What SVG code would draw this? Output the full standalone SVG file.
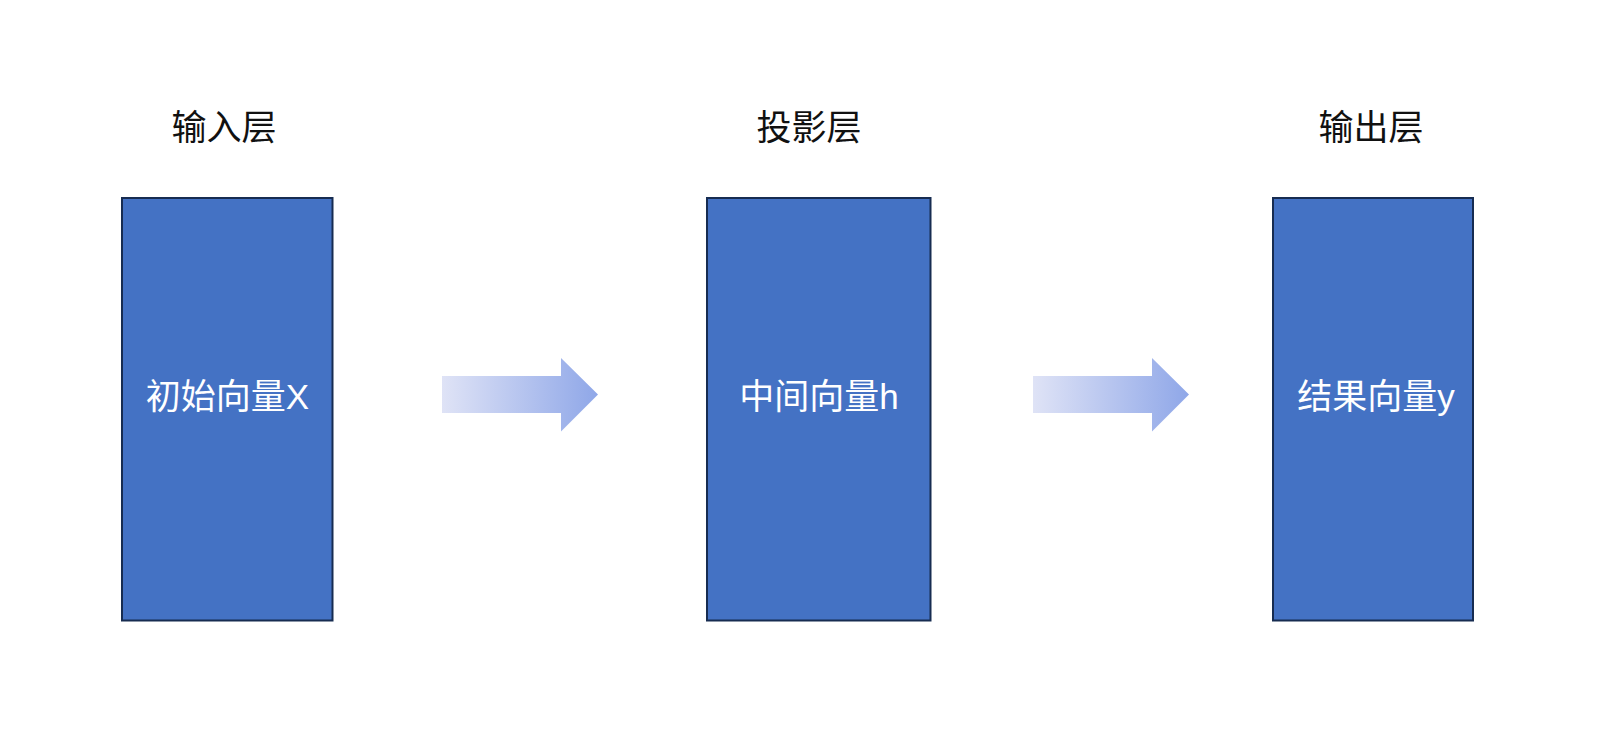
<svg xmlns="http://www.w3.org/2000/svg" width="1609" height="729" viewBox="0 0 1609 729">
<style>
.box{fill:#4472C4;stroke:#172C51;stroke-width:2}
.title{font-family:"Liberation Sans","Noto Sans CJK SC",sans-serif;font-size:35px;fill:#111;text-anchor:middle;dominant-baseline:central}
.label{font-family:"Liberation Sans","Noto Sans CJK SC",sans-serif;font-size:35px;fill:#fff;text-anchor:middle;dominant-baseline:central}
.arrow{fill:url(#grad)}
</style>
<defs>
<linearGradient id="grad" x1="0" y1="0" x2="1" y2="0">
<stop offset="0" stop-color="#DFE3F6"/>
<stop offset="1" stop-color="#8FA7E8"/>
</linearGradient>
</defs>
<rect width="1609" height="729" fill="#fff"/>
<text class="title" x="224" y="127">输入层</text>
<text class="title" x="809" y="127">投影层</text>
<text class="title" x="1371" y="127">输出层</text>
<g id="node-input">
<rect class="box" x="122" y="198" width="210.5" height="422.5"/>
<text class="label" x="227.5" y="396">初始向量X</text>
</g>
<g id="node-projection">
<rect class="box" x="707" y="198" width="223.5" height="422.5"/>
<text class="label" x="819" y="396">中间向量h</text>
</g>
<g id="node-output">
<rect class="box" x="1273" y="198" width="200" height="422.5"/>
<text class="label" x="1376" y="396">结果向量y</text>
</g>
<g id="connectors">
<polygon class="arrow" points="442,376 561,376 561,358 598,394.5 561,431.5 561,413 442,413"/>
<polygon class="arrow" points="1033,376 1152,376 1152,358 1189,394.5 1152,431.5 1152,413 1033,413"/>
</g>
</svg>
